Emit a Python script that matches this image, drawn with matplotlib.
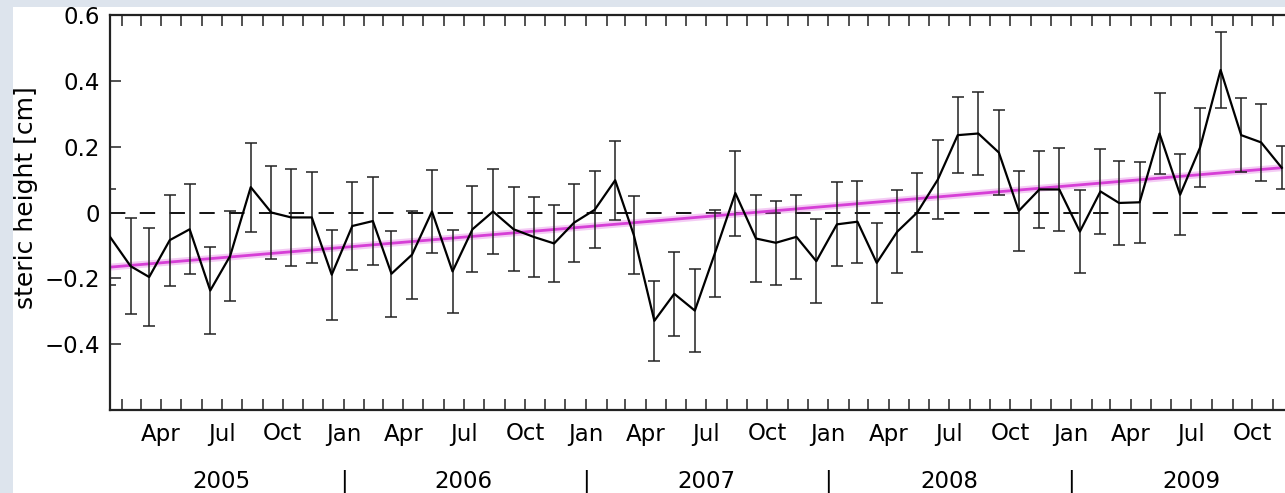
import numpy as np
import pandas as pd
import matplotlib
matplotlib.use('Agg')
import matplotlib.pyplot as plt
import matplotlib.dates as mdates
import matplotlib.transforms as mtransforms
from matplotlib.patches import Rectangle

# monthly steric height anomalies, Jan 2005 - Nov 2009
steric = [-0.074, -0.163, -0.196, -0.084, -0.051, -0.237, -0.132, 0.077, 0.0, -0.015,
          -0.015, -0.189, -0.041, -0.026, -0.186, -0.128, 0.003, -0.179, -0.051, 0.003,
          -0.051, -0.074, -0.094, -0.031, 0.008, 0.098, -0.068, -0.329, -0.247, -0.298,
          -0.125, 0.059, -0.079, -0.092, -0.074, -0.148, -0.036, -0.028, -0.153, -0.058,
          0.0, 0.1, 0.235, 0.24, 0.182, 0.005, 0.07, 0.07, -0.058, 0.064,
          0.029, 0.031, 0.24, 0.054, 0.197, 0.433, 0.235, 0.213, 0.136]
# one-sigma errors
sigma = [0.145, 0.146, 0.15, 0.138, 0.137, 0.133, 0.137, 0.135, 0.14, 0.147,
         0.139, 0.137, 0.133, 0.133, 0.13, 0.134, 0.125, 0.125, 0.131, 0.13,
         0.127, 0.121, 0.118, 0.118, 0.117, 0.12, 0.118, 0.122, 0.127, 0.125,
         0.133, 0.129, 0.133, 0.127, 0.127, 0.128, 0.128, 0.124, 0.121, 0.125,
         0.12, 0.12, 0.115, 0.125, 0.13, 0.122, 0.118, 0.126, 0.125, 0.13,
         0.127, 0.123, 0.123, 0.123, 0.12, 0.116, 0.112, 0.117, 0.066]
# linear trend, value at first and last month
trend_ends = [-0.166, 0.136]

years = [2005, 2006, 2007, 2008, 2009]
yticks = [-0.4, -0.2, 0.0, 0.2, 0.4, 0.6]
ytick_labels = ['\u22120.4', '\u22120.2', '0', '0.2', '0.4', '0.6']

dates = pd.date_range('2005-01-01', periods=len(steric), freq='MS') + pd.Timedelta(days=13)

W, H = 1285, 493
fig = plt.figure(figsize=(W / 100, H / 100), dpi=100)
fig.patch.set_facecolor('#dde4ed')
fig.patches.append(Rectangle((13 / W, 0), 1, (H - 7) / H, transform=fig.transFigure,
                             facecolor='white', edgecolor='none', zorder=-10))

ax = fig.add_axes([110 / W, (H - 410) / H, (W - 110) / W, 395 / H])
ax.set_facecolor('none')

ax.axhline(0, color='black', lw=1.3, dashes=(8.5, 8), zorder=1)
ax.plot([dates[0], dates[-1]], trend_ends, color='#e06ce0', lw=5, alpha=0.35,
        solid_capstyle='butt', zorder=2)
ax.plot([dates[0], dates[-1]], trend_ends, color='#d63fd6', lw=2.0, zorder=2)
ax.errorbar(dates, steric, yerr=sigma, fmt='none', ecolor='#222222', elinewidth=1.1,
            capsize=4.5, capthick=1.1, zorder=3)
ax.plot(dates, steric, color='black', lw=1.6, zorder=4)

ax.set_xlim(pd.Timestamp('2005-01-14'), pd.Timestamp('2009-11-19'))
ax.set_ylim(-0.6, 0.6)

ax.xaxis.set_major_locator(mdates.MonthLocator(bymonth=[1, 4, 7, 10]))
ax.xaxis.set_major_formatter(mdates.DateFormatter('%b'))
ax.xaxis.set_minor_locator(mdates.MonthLocator())
ax.set_yticks(yticks)
ax.set_yticklabels(ytick_labels)

for s in ax.spines.values():
    s.set_linewidth(1.6)
    s.set_color('#222222')
ax.spines['right'].set_visible(False)

ax.tick_params(which='both', direction='in', length=8, width=1.1, color='#222222',
               top=True, labelsize=16.5)
ax.tick_params(axis='x', pad=9)
ax.tick_params(axis='y', pad=7, right=False)

ax.set_ylabel('steric height [cm]', fontsize=18)
ax.yaxis.set_label_coords(-72 / 1175, (410 - 198) / 395)

# year labels under the month labels, with bars at year boundaries
trans = mtransforms.blended_transform_factory(ax.transData, ax.transAxes)
ybase = (410 - 488) / 395
for yr in years:
    ax.text(pd.Timestamp(f'{yr}-07-01'), ybase, str(yr), transform=trans,
            ha='center', va='baseline', fontsize=16.5, clip_on=False)
    if yr > years[0]:
        ax.text(pd.Timestamp(f'{yr}-01-01'), ybase, '|', transform=trans,
                ha='center', va='baseline', fontsize=16.5, clip_on=False)

fig.savefig('out.png', dpi=100, facecolor=fig.get_facecolor())
